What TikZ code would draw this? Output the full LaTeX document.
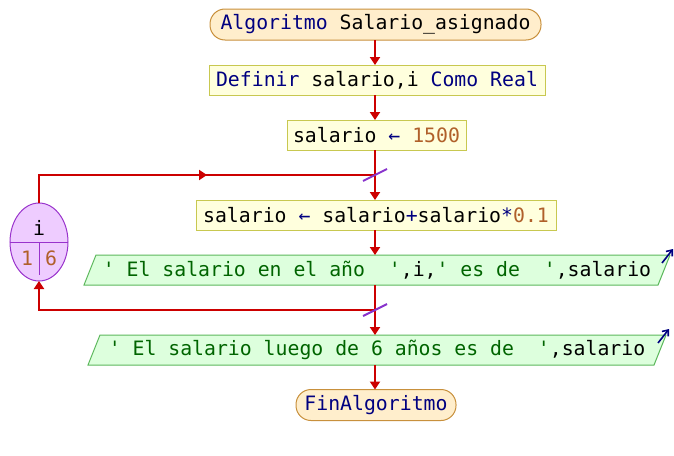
\documentclass[tikz,border=0pt]{standalone}
\usepackage{fontspec}
\setmonofont{DejaVu Sans Mono}
\usetikzlibrary{arrows.meta,calc,shapes.geometric}
\pgfdeclarelayer{bg}
\pgfsetlayers{bg,main}

\definecolor{flowred}{HTML}{CC0000}
\definecolor{kw}{HTML}{000080}
\definecolor{num}{HTML}{B0602A}
\definecolor{str}{HTML}{006400}
\definecolor{termfill}{HTML}{FFEECC}
\definecolor{termline}{HTML}{C8903C}
\definecolor{procfill}{HTML}{FFFFDD}
\definecolor{procline}{HTML}{C8C850}
\definecolor{iofill}{HTML}{DDFFDD}
\definecolor{ioline}{HTML}{5CB85C}
\definecolor{forfill}{HTML}{EECCFF}
\definecolor{forline}{HTML}{9933CC}
\definecolor{tickc}{HTML}{8833CC}

\begin{document}
\begin{tikzpicture}[x=1pt,y=1pt,
  font=\ttfamily\fontsize{19.8}{22}\selectfont,
  every node/.style={inner sep=0pt, outer sep=0pt},
  term/.style={draw=termline, fill=termfill, line width=1pt,
    rounded corners=15pt, minimum height=31pt},
  proc/.style={draw=procline, fill=procfill, line width=1pt, minimum height=30pt},
  iotext/.style={minimum height=30pt},
  iobox/.style={draw=ioline, fill=iofill, line width=1pt},
  forvar/.style={ellipse, draw=forline, fill=forfill, line width=1pt},
  forsep/.style={draw=forline, line width=1pt},
  wire/.style={draw=flowred, line width=2pt},
  flow/.style={wire, -{Triangle[length=8pt,width=10pt]}},
  tick/.style={draw=tickc, line width=2pt},
  outarr/.style={draw=kw, line width=1.6pt, -{Straight Barb[length=5pt,width=8pt]}}
]
\useasboundingbox (0,0) rectangle (674,-455);

% main column of the flow
\coordinate (ax) at (375,0);

% statements
\node[term, minimum width=331pt] (start) at (375.5,-24.5)
  {{\color{kw}Algoritmo} Salario\_asignado};
\node[proc, minimum width=336pt] (def) at (377,-80)
  {{\color{kw}Definir} salario,i {\color{kw}Como Real}};
\node[proc, minimum width=179pt] (init) at (376.5,-135)
  {salario {\color{kw}←} {\color{num}1500}};
\node[proc, minimum width=360pt] (body) at (376,-215)
  {salario {\color{kw}←} salario{\color{kw}+}salario{\color{kw}*}{\color{num}0.1}};
\node[iotext, minimum width=574pt] (out1) at (377,-270)
  {{\color{str}' El salario en el año~~'},i,{\color{str}' es de~~'},salario};
\node[iotext, minimum width=566pt] (out2) at (377,-350)
  {{\color{str}' El salario luego de 6 años es de~~'},salario};
\node[term, minimum width=160pt] (stop) at (376,-405)
  {{\color{kw}FinAlgoritmo}};

% parallelograms behind the output texts
\begin{pgfonlayer}{bg}
  \foreach \n in {out1,out2}{
    \path[iobox] ($(\n.south west)+(-6,0)$) -- ($(\n.north west)+(6,0)$)
      -- ($(\n.north east)+(6,0)$) -- ($(\n.south east)+(-6,0)$) -- cycle;
  }
\end{pgfonlayer}

% loop counter
\node[forvar, minimum width=58pt, minimum height=78pt] (loop) at (39,-242) {};
\draw[forsep] (loop.west) -- (loop.east);
\draw[forsep] (loop.center) -- ($(loop.center)+(0,-33)$);
\node (lvar) at (39,-228) {i};
\node (lfrom) at (27,-258) {\color{num}1};
\node (lto) at (51,-258) {\color{num}6};

% connectors
\draw[flow] (start.south -| ax) -- (def.north -| ax);
\draw[flow] (def.south -| ax) -- (init.north -| ax);
\coordinate (jtop) at (375,-175);
\coordinate (jbot) at (375,-310);
\draw[wire] (init.south -| ax) -- (jtop);
\draw[flow] (jtop) -- (body.north -| ax);
\draw[flow] (body.south -| ax) -- (out1.north -| ax);
\coordinate (ctop) at (loop.north |- jtop);
\draw[wire] (loop.north) -- (ctop) -- (jtop);
\draw[flow] (ctop) -- ($(ctop)!0.5!(jtop)$);
\draw[wire] (out1.south -| ax) -- (jbot);
\draw[flow] (jbot) -| (loop.south);
\draw[flow] (jbot) -- (out2.north -| ax);
\draw[flow] (out2.south -| ax) -- (stop.north -| ax);

% loop junction marks
\draw[tick] ($(jtop)+(-12,-6)$) -- ($(jtop)+(12,6)$);
\draw[tick] ($(jbot)+(-12,-6)$) -- ($(jbot)+(12,6)$);

% output markers
\draw[outarr] ($(out1.north east)+(-2,-8)$) -- ($(out1.north east)+(9,6)$);
\draw[outarr] ($(out2.north east)+(-2,-8)$) -- ($(out2.north east)+(9,6)$);
\end{tikzpicture}
\end{document}
